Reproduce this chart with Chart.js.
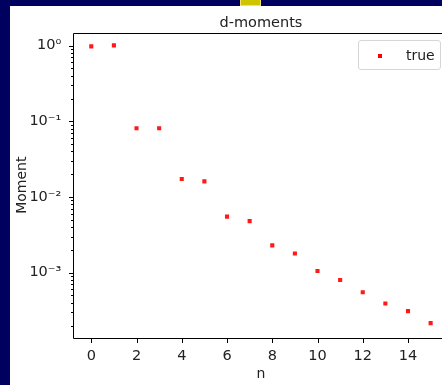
<!DOCTYPE html>
<html>
<head>
<meta charset="utf-8">
<script src="https://cdn.jsdelivr.net/npm/chart.js@4.4.1/dist/chart.umd.min.js"></script>
<style>
  html, body { margin: 0; padding: 0; }
  body {
    width: 442px; height: 385px; overflow: hidden; position: relative;
    background: #00005f; font-family: "DejaVu Sans", sans-serif;
  }
  #badge {
    position: absolute; left: 240px; top: 0; width: 19px; height: 5px;
    background: #cfc400; border: 1px solid #f2e46a; border-top: none;
  }
  #panel {
    position: absolute; left: 10px; top: 6px; width: 470px; height: 379px;
    background: #fff;
  }
  #chart { position: absolute; left: 0; top: 0; }
  #legend {
    position: absolute; left: 348px; top: 34px; width: 81px; height: 28px;
    border: 1px solid #d6d6d6; border-radius: 3px; background: rgba(255,255,255,0.8);
  }
  #legend .swatch {
    position: absolute; left: 19px; top: 13px; width: 4px; height: 4px; background: #ff0000;
  }
  #legend .label {
    position: absolute; left: 47px; top: 5px; font-size: 14px; line-height: 18px; color: #222;
  }
</style>
</head>
<body>
<div id="badge"></div>
<div id="panel">
  <canvas id="chart" width="470" height="379"></canvas>
  <div id="legend"><span class="swatch"></span><span class="label">true</span></div>
</div>
<script>
// data
const nValues = [0, 1, 2, 3, 4, 5, 6, 7, 8, 9, 10, 11, 12, 13, 14, 15];
const moments = [0.98, 1.01, 0.081, 0.081, 0.0173, 0.0161, 0.0055, 0.0048,
                 0.00229, 0.00179, 0.00105, 0.00080, 0.00055, 0.00039, 0.00031, 0.000215];

const xTicks = [0, 2, 4, 6, 8, 10, 12, 14];
const yTicks = [1e-3, 1e-2, 1e-1, 1];
const yTickLabels = ['10⁻³', '10⁻²', '10⁻¹', '10⁰'];
const chartTitle = 'd-moments';

// matplotlib style title, spines and major/minor tick marks
const axesFrame = {
  id: 'axesFrame',
  afterDraw(chart) {
    const { ctx, chartArea: a, scales } = chart;
    const L = Math.round(a.left) - 0.5, R = Math.round(a.right) + 0.5;
    const T = Math.round(a.top) + 0.5, B = Math.round(a.bottom) + 0.5;
    ctx.save();
    ctx.fillStyle = '#222';
    ctx.font = '14.5px "DejaVu Sans"';
    ctx.textAlign = 'center';
    ctx.textBaseline = 'alphabetic';
    ctx.fillText(chartTitle, (a.left + a.right) / 2, 20.7);

    ctx.strokeStyle = '#000';
    ctx.lineWidth = 1;
    ctx.beginPath();
    ctx.moveTo(L, T); ctx.lineTo(R, T); ctx.lineTo(R, B); ctx.lineTo(L, B); ctx.closePath();
    xTicks.forEach(v => {
      const x = Math.round(scales.x.getPixelForValue(v)) + 0.5;
      ctx.moveTo(x, B);
      ctx.lineTo(x, B + 4.5);
    });
    const y0 = Math.log10(scales.y.min), y1 = Math.log10(scales.y.max);
    for (let e = Math.floor(y0); e <= Math.ceil(y1); e++) {
      for (let m = 1; m < 10; m++) {
        const v = m * Math.pow(10, e);
        if (v < scales.y.min || v > scales.y.max) continue;
        const y = Math.round(scales.y.getPixelForValue(v)) + 0.5;
        ctx.moveTo(L, y);
        ctx.lineTo(L - (m === 1 ? 4.5 : 2.5), y);
      }
    }
    ctx.stroke();
    ctx.restore();
  }
};

new Chart(document.getElementById('chart'), {
  type: 'scatter',
  data: {
    datasets: [{
      label: 'true',
      data: nValues.map((n, i) => ({ x: n, y: moments[i] })),
      backgroundColor: 'rgba(255,0,0,0.9)',
      borderWidth: 0,
      pointStyle: 'rect',
      pointRadius: 2.9,
      pointHoverRadius: 2.9
    }]
  },
  options: {
    responsive: false,
    animation: false,
    devicePixelRatio: 1,
    layout: { padding: { left: 0, right: 32.4, top: 26.7, bottom: 0 } },
    plugins: {
      legend: { display: false },
      tooltip: { enabled: false },
      title: { display: false }
    },
    scales: {
      x: {
        type: 'linear',
        min: -0.75,
        max: 15.75,
        grid: { display: false },
        border: { display: false },
        afterBuildTicks: s => { s.ticks = xTicks.map(v => ({ value: v })); },
        afterFit: s => { s.height = 47.3; },
        ticks: {
          autoSkip: false,
          maxRotation: 0,
          padding: 2,
          color: '#222',
          font: { family: 'DejaVu Sans', size: 14.5 },
          callback: v => String(v)
        },
        title: {
          display: true,
          text: 'n',
          color: '#222',
          font: { family: 'DejaVu Sans', size: 14 },
          padding: { top: 0, bottom: 2.6 }
        }
      },
      y: {
        type: 'logarithmic',
        min: 1.38e-4,
        max: 1.486,
        grid: { display: false },
        border: { display: false },
        afterBuildTicks: s => { s.ticks = yTicks.map(v => ({ value: v })); },
        afterFit: s => { s.width = 64.3; },
        ticks: {
          autoSkip: false,
          padding: 5,
          color: '#222',
          font: { family: 'DejaVu Sans', size: 14.5 },
          callback: (v, i) => yTickLabels[i]
        },
        title: {
          display: true,
          text: 'Moment',
          color: '#222',
          font: { family: 'DejaVu Sans', size: 14 },
          padding: { top: 4, bottom: 0 }
        }
      }
    }
  },
  plugins: [axesFrame]
});
</script>
</body>
</html>
